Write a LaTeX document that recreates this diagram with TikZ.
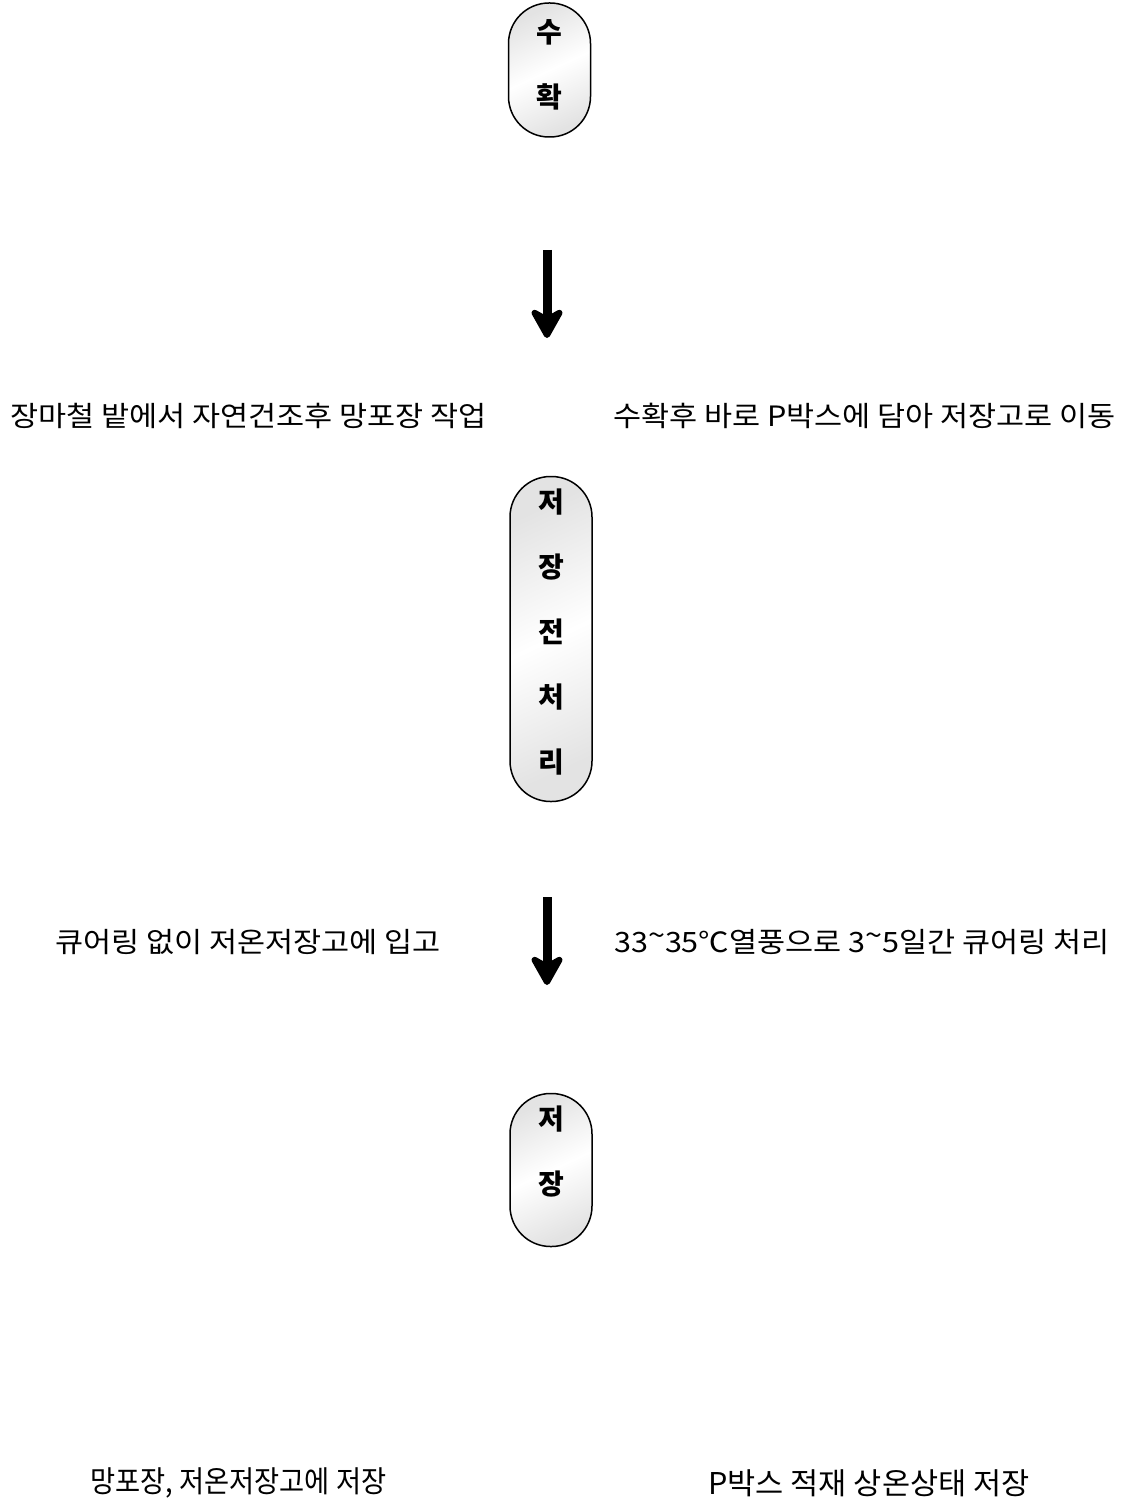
\documentclass[tikz,border=0pt]{standalone}
\usepackage{fontspec}
\setmainfont{Noto Sans CJK KR}
\usetikzlibrary{arrows.meta}
\newcommand{\hitilde}{\raisebox{0.45ex}{\textasciitilde}}
\begin{document}
\begin{tikzpicture}[x=1pt,y=-1pt,
  capsule/.style={draw=black, line width=1.5pt, rounded corners=40.5pt,
    minimum width=82pt, inner sep=0pt,
    left color=gray!22, right color=gray!22, middle color=white, shading angle=25},
  captext/.style={font=\fontsize{28}{65}\selectfont\bfseries, align=center, inner sep=0pt},
  lbl/.style={font=\fontsize{28}{30}\selectfont, anchor=west, inner sep=0pt, xscale=1.09, transform shape},
  narrow/.style={font=\fontsize{30}{32}\selectfont, anchor=west, inner sep=0pt, transform shape},
  bigarrow/.style={line width=9pt, -{Stealth[length=36pt,width=40pt,inset=11pt,round]}}
]
\useasboundingbox (0,0) rectangle (1125,1506);
\fill[white] (0,0) rectangle (1125,1506);

% capsules
\node[capsule, minimum height=134pt] (c1) at (549.5,70) {};
\node[captext] (c1t) at (549.5,64.5) {수\\확};

\node[capsule, minimum height=325pt] (c2) at (551,639) {};
\node[captext] (c2t) at (551,632) {저\\장\\전\\처\\리};

\node[capsule, minimum height=153pt] (c3) at (551,1170) {};
\node[captext] (c3t) at (551,1151) {저\\장};

% arrows
\coordinate (a1s) at (547,250);
\coordinate (a1e) at (547,338);
\draw[bigarrow] (a1s) -- (a1e);
\coordinate (a2s) at (547,897);
\coordinate (a2e) at (547,985);
\draw[bigarrow] (a2s) -- (a2e);

% labels
\node[lbl] (l1) at (10,416) {장마철 밭에서 자연건조후 망포장 작업};
\node[lbl] (r1) at (613,416) {수확후 바로 P박스에 담아 저장고로 이동};
\node[lbl] (l2) at (55,942) {큐어링 없이 저온저장고에 입고};
\node[lbl] (r2) at (614,942) {33\hitilde 35℃열풍으로 3\hitilde 5일간 큐어링 처리};
\node[narrow, xscale=0.91] (l3) at (90,1483) {망포장, 저온저장고에 저장};
\node[narrow, xscale=1.02] (r3) at (708,1483) {P박스 적재 상온상태 저장};
\end{tikzpicture}
\end{document}
